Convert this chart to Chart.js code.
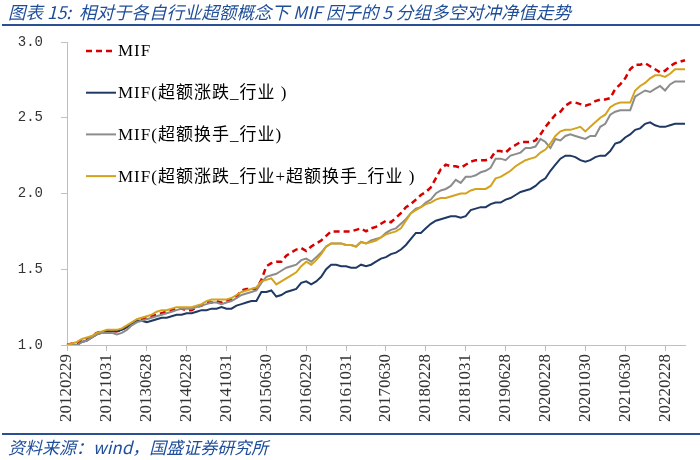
<!DOCTYPE html>
<html>
<head>
<meta charset="utf-8">
<script src="https://cdn.jsdelivr.net/npm/chart.js@4/dist/chart.umd.min.js"></script>
<style>
  html, body { margin: 0; padding: 0; background: #fff; }
  #wrap { width: 700px; height: 460px; }
</style>
</head>
<body>
<div id="wrap"><canvas id="chart"></canvas></div>
<script>
// month-end trading dates, 2012-02 .. 2022-06
const dates = [
  "20120229","20120330","20120427","20120531","20120629","20120731","20120831","20120928","20121031","20121130","20121231",
  "20130131","20130228","20130329","20130426","20130531","20130628","20130731","20130830","20130930","20131031","20131129","20131231",
  "20140130","20140228","20140331","20140430","20140530","20140630","20140731","20140829","20140930","20141031","20141128","20141231",
  "20150130","20150227","20150331","20150430","20150529","20150630","20150731","20150831","20150930","20151030","20151130","20151231",
  "20160129","20160229","20160331","20160429","20160531","20160630","20160729","20160831","20160930","20161031","20161130","20161230",
  "20170126","20170228","20170331","20170428","20170531","20170630","20170731","20170831","20170929","20171031","20171130","20171229",
  "20180131","20180228","20180330","20180427","20180531","20180629","20180731","20180831","20180928","20181031","20181130","20181228",
  "20190131","20190228","20190329","20190430","20190531","20190628","20190731","20190830","20190930","20191031","20191129","20191231",
  "20200123","20200228","20200331","20200430","20200529","20200630","20200731","20200831","20200930","20201030","20201130","20201231",
  "20210129","20210226","20210331","20210430","20210531","20210630","20210730","20210831","20210930","20211029","20211130","20211231",
  "20220128","20220228","20220331","20220429","20220531","20220630"
];

// dates that get a tick label on the x axis
const shownDates = [
  "20120229","20121031","20130628","20140228","20141031","20150630","20160229","20161031",
  "20170630","20180228","20181031","20190628","20200228","20201030","20210630","20220228"
];

const yTicks = [1.0, 1.5, 2.0, 2.5, 3.0];

const mif = [
  1.00,1.01,1.01,1.03,1.04,1.06,1.08,1.09,1.09,1.09,
  1.09,1.10,1.12,1.14,1.16,1.17,1.18,1.19,1.20,1.21,
  1.22,1.23,1.24,1.24,1.23,1.23,1.25,1.26,1.28,1.28,
  1.29,1.28,1.29,1.30,1.32,1.36,1.37,1.37,1.37,1.43,
  1.52,1.54,1.55,1.55,1.59,1.61,1.63,1.64,1.62,1.65,
  1.67,1.69,1.72,1.75,1.75,1.75,1.75,1.75,1.76,1.77,
  1.75,1.77,1.78,1.80,1.82,1.81,1.84,1.87,1.91,1.93,
  1.96,1.99,2.01,2.04,2.10,2.16,2.19,2.18,2.18,2.17,
  2.19,2.21,2.22,2.22,2.22,2.23,2.28,2.28,2.27,2.30,
  2.32,2.34,2.34,2.34,2.35,2.39,2.44,2.48,2.52,2.54,
  2.58,2.60,2.60,2.59,2.58,2.59,2.61,2.62,2.62,2.63,
  2.69,2.72,2.76,2.82,2.85,2.85,2.86,2.84,2.82,2.80,
  2.81,2.84,2.86,2.87,2.88
];

const mifRet = [
  1.00,1.00,1.00,1.02,1.03,1.05,1.07,1.08,1.09,1.09,
  1.09,1.10,1.12,1.14,1.16,1.16,1.15,1.16,1.17,1.18,
  1.18,1.19,1.20,1.20,1.21,1.21,1.22,1.23,1.23,1.24,
  1.24,1.25,1.24,1.24,1.26,1.27,1.28,1.29,1.29,1.35,
  1.35,1.36,1.32,1.33,1.35,1.36,1.37,1.41,1.42,1.40,
  1.42,1.45,1.50,1.53,1.53,1.52,1.52,1.51,1.51,1.53,
  1.52,1.53,1.55,1.57,1.58,1.60,1.61,1.63,1.66,1.70,
  1.74,1.74,1.77,1.80,1.82,1.83,1.84,1.85,1.85,1.84,
  1.85,1.89,1.90,1.91,1.91,1.93,1.94,1.94,1.96,1.97,
  1.99,2.01,2.02,2.03,2.05,2.08,2.10,2.15,2.19,2.23,
  2.25,2.25,2.24,2.22,2.21,2.22,2.24,2.25,2.25,2.28,
  2.33,2.34,2.37,2.39,2.42,2.43,2.46,2.47,2.45,2.44,
  2.44,2.45,2.46,2.46,2.46
];

const mifTurn = [
  1.00,1.00,1.00,1.02,1.03,1.05,1.07,1.08,1.08,1.08,
  1.07,1.08,1.10,1.13,1.15,1.16,1.17,1.18,1.19,1.20,
  1.21,1.22,1.23,1.24,1.24,1.24,1.25,1.26,1.27,1.28,
  1.28,1.27,1.28,1.29,1.31,1.33,1.34,1.35,1.36,1.41,
  1.45,1.46,1.47,1.49,1.51,1.52,1.53,1.56,1.57,1.55,
  1.58,1.61,1.65,1.67,1.67,1.67,1.66,1.66,1.65,1.68,
  1.67,1.69,1.70,1.71,1.74,1.76,1.77,1.80,1.83,1.87,
  1.90,1.91,1.94,1.96,2.00,2.02,2.03,2.05,2.09,2.07,
  2.11,2.11,2.12,2.14,2.15,2.17,2.23,2.23,2.22,2.25,
  2.26,2.27,2.30,2.30,2.31,2.36,2.34,2.30,2.36,2.35,
  2.38,2.39,2.38,2.37,2.36,2.38,2.38,2.44,2.46,2.52,
  2.54,2.55,2.55,2.55,2.64,2.66,2.68,2.67,2.69,2.71,
  2.68,2.72,2.74,2.74,2.74
];

const mifBoth = [
  1.00,1.01,1.02,1.04,1.05,1.06,1.08,1.09,1.10,1.10,
  1.10,1.11,1.13,1.15,1.17,1.18,1.19,1.20,1.22,1.23,
  1.23,1.24,1.25,1.25,1.25,1.25,1.26,1.27,1.29,1.30,
  1.30,1.30,1.30,1.31,1.33,1.35,1.36,1.37,1.38,1.42,
  1.43,1.44,1.40,1.42,1.44,1.46,1.48,1.52,1.55,1.53,
  1.56,1.60,1.65,1.67,1.67,1.67,1.66,1.66,1.65,1.68,
  1.67,1.68,1.69,1.71,1.73,1.74,1.75,1.77,1.82,1.87,
  1.89,1.91,1.93,1.94,1.96,1.97,1.97,1.98,1.99,2.00,
  2.00,2.02,2.03,2.03,2.03,2.05,2.10,2.11,2.13,2.15,
  2.18,2.20,2.22,2.23,2.24,2.27,2.29,2.33,2.38,2.41,
  2.42,2.42,2.43,2.44,2.41,2.44,2.47,2.50,2.52,2.57,
  2.59,2.60,2.60,2.60,2.68,2.71,2.73,2.76,2.78,2.78,
  2.77,2.79,2.82,2.82,2.82
];

const seriesNames = [
  "MIF",
  "MIF(超额涨跌_行业 )",
  "MIF(超额换手_行业)",
  "MIF(超额涨跌_行业+超额换手_行业 )"
];
const seriesColors = ["#D60000", "#1F3864", "#8C8C8C", "#D4A21C"];

const blue = "#1F4E99";
const axisGrey = "#BFBFBF";

// blue rules under the title and above the source note
const rules = {
  id: "rules",
  afterDraw(chart) {
    const ctx = chart.ctx;
    ctx.save();
    ctx.strokeStyle = "#2B4F93";
    ctx.lineWidth = 2;
    ctx.beginPath();
    ctx.moveTo(2, 25); ctx.lineTo(chart.width, 25);
    ctx.moveTo(2, 434); ctx.lineTo(chart.width, 434);
    ctx.stroke();
    ctx.restore();
  }
};

// legend drawn inside the plot, top left, one item per row
const insideLegend = {
  id: "insideLegend",
  afterDatasetsDraw(chart) {
    const { ctx, chartArea } = chart;
    ctx.save();
    ctx.font = '17px "Liberation Serif", "Noto Sans CJK SC"';
    ctx.letterSpacing = "1px";
    ctx.textBaseline = "middle";
    chart.data.datasets.forEach((ds, i) => {
      const x = chartArea.left + 19;
      const y = chartArea.top + 9 + i * 41.7;
      ctx.strokeStyle = ds.borderColor;
      ctx.lineWidth = ds.borderWidth;
      ctx.setLineDash(ds.borderDash || []);
      ctx.beginPath();
      ctx.moveTo(x, y);
      ctx.lineTo(x + 30, y);
      ctx.stroke();
      ctx.setLineDash([]);
      ctx.fillStyle = "#000";
      ctx.fillText(ds.label, x + 32, y + 1);
    });
    ctx.restore();
  }
};

const seriesData = [mif, mifRet, mifTurn, mifBoth];

new Chart(document.getElementById("chart"), {
  type: "line",
  data: {
    labels: dates,
    datasets: seriesData.map((d, i) => ({
      label: seriesNames[i],
      data: d,
      borderColor: seriesColors[i],
      backgroundColor: seriesColors[i],
      borderWidth: i === 0 ? 2.5 : 2,
      borderDash: i === 0 ? [6, 4] : [],
      pointRadius: 0,
      tension: 0,
      order: 4 - i
    }))
  },
  options: {
    responsive: true,
    maintainAspectRatio: false,
    animation: false,
    layout: { padding: { left: 8, right: 15, top: 0, bottom: 0 } },
    plugins: {
      legend: { display: false },
      tooltip: { enabled: false },
      title: {
        display: true,
        text: "图表 15:  相对于各自行业超额概念下 MIF 因子的 5 分组多空对冲净值走势",
        align: "start",
        color: blue,
        font: { family: '"Noto Sans CJK SC", "DejaVu Sans"', size: 17.5, style: "italic", weight: "normal" },
        padding: { top: 1.5, bottom: 19.5 }
      },
      subtitle: {
        display: true,
        position: "bottom",
        text: "资料来源：wind，国盛证券研究所",
        align: "start",
        color: blue,
        font: { family: '"Noto Sans CJK SC", "DejaVu Sans"', size: 17, style: "italic", weight: "normal" },
        padding: { top: 12, bottom: 2.6 }
      }
    },
    scales: {
      x: {
        type: "category",
        offset: false,
        afterFit(scale) { scale.height = 80; },
        afterBuildTicks(scale) {
          scale.ticks = shownDates.map(d => ({ value: dates.indexOf(d) }));
        },
        ticks: {
          autoSkip: false,
          minRotation: 90,
          maxRotation: 90,
          padding: 3,
          color: "#333",
          font: { family: '"Liberation Serif", serif', size: 17 },
          callback: (v) => dates[v]
        },
        grid: { drawOnChartArea: false, drawTicks: true, tickLength: 6, color: axisGrey },
        border: { color: axisGrey, width: 1 }
      },
      y: {
        min: 1,
        max: 3,
        afterFit(scale) { scale.width = 59; },
        afterBuildTicks(scale) {
          scale.ticks = yTicks.map(v => ({ value: v }));
        },
        ticks: {
          padding: 18,
          color: "#333",
          font: { family: '"Liberation Mono", monospace', size: 14 },
          callback: (v) => v.toFixed(1)
        },
        grid: { drawOnChartArea: false, drawTicks: true, tickLength: 6, color: axisGrey },
        border: { color: axisGrey, width: 1 }
      }
    }
  },
  plugins: [rules, insideLegend]
});
</script>
</body>
</html>
